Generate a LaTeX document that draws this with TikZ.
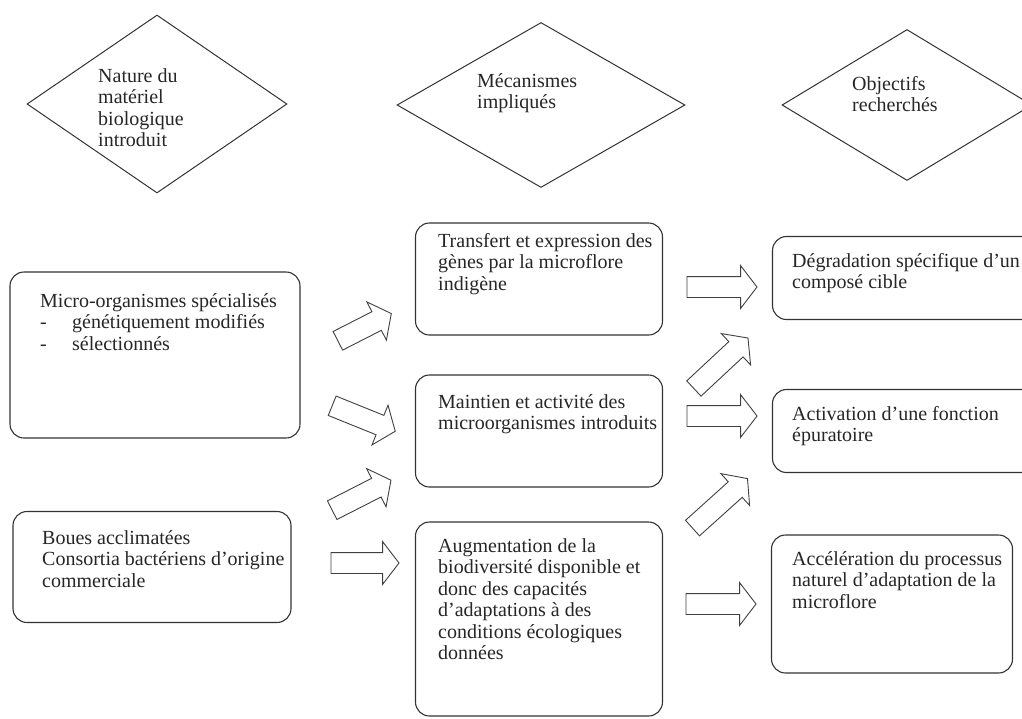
\documentclass[tikz,border=0pt]{standalone}
\usepackage{fontspec}
\setmainfont{Liberation Serif}
\usetikzlibrary{shapes.geometric,shapes.arrows}
\newcommand{\tiret}{\makebox[32pt][l]{-}}

\begin{document}
\begin{tikzpicture}[x=1pt,y=-1pt,
    every node/.style={inner sep=0pt},
    boite/.style={draw=black!80, line width=1.1pt, rounded corners=14pt},
    losange/.style={draw=black!80, line width=1pt, diamond},
    % ancre = ligne de base de la derniere ligne
    texte/.style={anchor=base west, align=left, text=black!85,
        font=\fontsize{20}{21.5}\selectfont},
    fleche/.style={draw=black!75, line width=0.9pt, single arrow,
        inner ysep=10pt, single arrow head extend=11pt,
        single arrow tip angle=105, minimum height=#1},
    fleche/.default=70pt]

    \useasboundingbox (0,0) rectangle (1022,718);

    % en-tetes
    \node[losange, minimum width=260pt, minimum height=178pt] (dnature) at (157,104) {};
    \node[losange, minimum width=288pt, minimum height=165pt] (dmeca) at (541,105) {};
    \node[losange, minimum width=250pt, minimum height=151pt] (dobj) at (907,105) {};
    \node[texte] (tnature) at (98,146.5) {Nature du\\matériel\\biologique\\introduit};
    \node[texte] (tmeca) at (477,108.5) {Mécanismes\\impliqués};
    \node[texte] (tobj) at (852,111.5) {Objectifs\\recherchés};

    % materiel introduit
    \node[boite, minimum width=290pt, minimum height=166pt] (lmicro) at (155,355) {};
    \node[boite, minimum width=278pt, minimum height=111pt] (lboues) at (152,567) {};
    \node[texte] (tmicro) at (40,350)
        {Micro-organismes spécialisés\\\tiret génétiquement modifiés\\\tiret sélectionnés};
    \node[texte] (tboues) at (42,587)
        {Boues acclimatées\\Consortia bactériens d’origine\\commerciale};

    % mecanismes
    \node[boite, minimum width=247pt, minimum height=112pt] (mtransfert) at (539,279) {};
    \node[boite, minimum width=247pt, minimum height=112pt] (mmaintien) at (539,431) {};
    \node[boite, minimum width=247pt, minimum height=194pt] (maugment) at (539,619) {};
    \node[texte] (ttransfert) at (438,290)
        {Transfert et expression des\\gènes par la microflore\\indigène};
    \node[texte] (tmaintien) at (438,429.5)
        {Maintien et activité des\\microorganismes introduits};
    \node[texte] (taugment) at (438,659.5)
        {Augmentation de la\\biodiversité disponible et\\donc des capacités\\d’adaptations à des\\conditions écologiques\\données};

    % objectifs
    \node[boite, minimum width=267pt, minimum height=83pt] (rdegrad) at (906,278) {};
    \node[boite, minimum width=267pt, minimum height=83pt] (ractiv) at (906,431) {};
    \node[boite, minimum width=241pt, minimum height=138pt] (raccel) at (892,604) {};
    \node[texte] (tdegrad) at (792,288.5)
        {Dégradation spécifique d’un\\composé cible};
    \node[texte] (tactiv) at (792,441.5)
        {Activation d’une fonction\\épuratoire};
    \node[texte] (taccel) at (792,608)
        {Accélération du processus\\naturel d’adaptation de la\\microflore};

    % fleches
    \node[fleche=60pt, rotate=27] (f1) at (361,329) {};
    \node[fleche=68pt, rotate=-22] (f2) at (360,417) {};
    \node[fleche=66pt, rotate=27] (f3) at (358,497) {};
    \node[fleche=68pt] (f4) at (361,563) {};
    \node[fleche] (f5) at (718,287) {};
    \node[fleche=74pt, rotate=43] (f6) at (718,366) {};
    \node[fleche] (f7) at (718,416) {};
    \node[fleche=74pt, rotate=42] (f8) at (717,506) {};
    \node[fleche] (f9) at (717,604) {};

\end{tikzpicture}
\end{document}
